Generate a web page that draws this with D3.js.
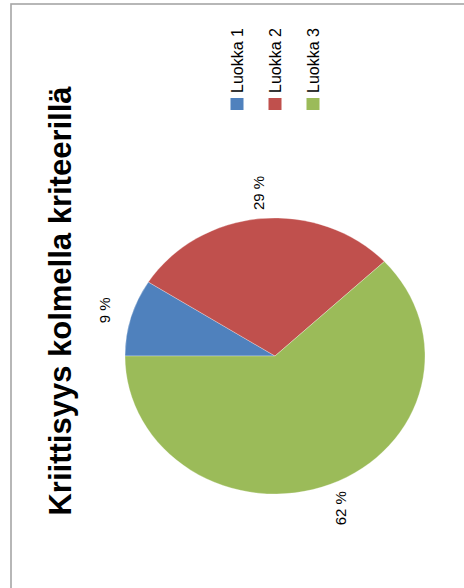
<!DOCTYPE html>
<html>
<head>
<meta charset="utf-8">
<script src="https://cdn.jsdelivr.net/npm/d3@7"></script>
<style>
  html, body { margin: 0; padding: 0; background: #fff; }
  svg { display: block; }
</style>
</head>
<body>
<svg id="chart" width="464" height="588"></svg>
<script>
// Chart data
const categories = ["Luokka 1", "Luokka 2", "Luokka 3"];
const values = [9, 29, 62];
const valueLabels = ["9 %", "29 %", "62 %"];
const colors = ["#4F81BD", "#C0504D", "#9BBB59"];
const title = "Kriittisyys kolmella kriteerillä";

const svg = d3.select("#chart");
const font = "'Liberation Sans', Arial, sans-serif";

// Chart area frame (open to the right and bottom)
svg.append("rect")
  .attr("x", 11).attr("y", 4)
  .attr("width", 470).attr("height", 600)
  .attr("fill", "#fff")
  .attr("stroke", "#a6a6a6")
  .attr("stroke-width", 1.6);

// Title, reading bottom to top
svg.append("text")
  .attr("transform", "translate(60,301) rotate(-90)")
  .attr("text-anchor", "middle")
  .attr("dominant-baseline", "central")
  .style("font-family", font)
  .style("font-weight", "bold")
  .style("font-size", "31px")
  .attr("fill", "#000")
  .text(title);

// Pie, turned a quarter so it starts at nine o'clock
const cx = 275, cy = 356, r = 150, squash = 0.92;
const pie = d3.pie().sort(null)
  .startAngle(-Math.PI / 2)
  .endAngle(3 * Math.PI / 2)
  .value(d => d);
const arcs = pie(values);
const arc = d3.arc().innerRadius(0).outerRadius(r);
const labelArc = d3.arc().innerRadius(178).outerRadius(178);

const g = svg.append("g")
  .attr("transform", `translate(${cx},${cy}) scale(1,${squash})`);

g.selectAll("path")
  .data(arcs)
  .join("path")
  .attr("d", arc)
  .attr("fill", (d, i) => colors[i])
  .attr("stroke", "rgba(255,255,255,0.5)")
  .attr("stroke-width", 0.6);

// Percentage labels outside the slices
svg.selectAll("text.pct")
  .data(arcs)
  .join("text")
  .attr("class", "pct")
  .attr("transform", d => {
    const [x, y] = labelArc.centroid(d);
    return `translate(${cx + x},${cy + y * squash}) rotate(-90)`;
  })
  .attr("text-anchor", "middle")
  .attr("dominant-baseline", "central")
  .style("font-family", font)
  .style("font-size", "15px")
  .attr("fill", "#000")
  .text((d, i) => valueLabels[i]);

// Legend: one rotated column per category
const legendX = d3.scalePoint().domain(categories).range([237, 313]);
const legend = svg.selectAll("g.legend")
  .data(categories)
  .join("g")
  .attr("class", "legend")
  .attr("transform", d => `translate(${legendX(d)},0)`);

legend.append("rect")
  .attr("x", -6.5).attr("y", 98)
  .attr("width", 13).attr("height", 12)
  .attr("fill", (d, i) => colors[i]);

legend.append("text")
  .attr("transform", "translate(0,93) rotate(-90)")
  .attr("text-anchor", "start")
  .attr("dominant-baseline", "central")
  .style("font-family", font)
  .style("font-size", "16px")
  .attr("fill", "#000")
  .text(d => d);
</script>
</body>
</html>
